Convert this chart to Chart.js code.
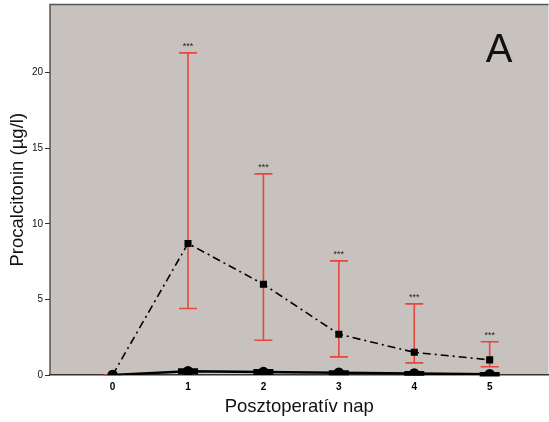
<!DOCTYPE html>
<html>
<head>
<meta charset="utf-8">
<script src="https://cdn.jsdelivr.net/npm/chart.js@4.4.0/dist/chart.umd.min.js"></script>
<style>
  html, body { margin: 0; padding: 0; background: #fff; overflow: hidden; }
  #wrap { width: 555px; height: 424px; position: relative; top: -2px; }
</style>
</head>
<body>
<div id="wrap"><canvas id="chart"></canvas></div>
<script>
// days after surgery
const days = [0, 1, 2, 3, 4, 5];
// dash-dot group (squares) with red error bars
const groupAMean = [0, 8.7, 6.0, 2.7, 1.5, 1.0];
const groupALow = [0, 4.4, 2.3, 1.2, 0.8, 0.55];
const groupAHigh = [0, 21.3, 13.3, 7.55, 4.7, 2.2];
// solid group (circles)
const groupBMean = [0, 0.25, 0.2, 0.15, 0.1, 0.05];
const groupBLow = [0, 0.15, 0.1, 0.08, 0.05, 0.0];
const groupBHigh = [0, 0.35, 0.3, 0.22, 0.16, 0.1];
const stars = ["", "***", "***", "***", "***", "***"];
const yTicks = [0, 5, 10, 15, 20];

const bgPlugin = {
  id: "bg",
  beforeDraw(chart) {
    const { ctx, chartArea: a } = chart;
    ctx.save();
    ctx.fillStyle = "#c8c2be";
    ctx.fillRect(a.left, a.top, a.right - a.left, a.bottom - a.top);
    ctx.strokeStyle = "#555";
    ctx.lineWidth = 1.5;
    ctx.beginPath();
    ctx.moveTo(a.left, a.bottom);
    ctx.lineTo(a.left, a.top);
    ctx.lineTo(a.right, a.top);
    ctx.stroke();
    ctx.restore();
  }
};

const errorPlugin = {
  id: "errs",
  beforeDatasetsDraw(chart) {
    const { ctx, scales: { x, y } } = chart;
    ctx.save();
    // red error bars
    ctx.strokeStyle = "#e8453f";
    ctx.lineWidth = 1.6;
    days.forEach((d, i) => {
      if (i === 0) return;
      const px = x.getPixelForValue(d);
      const hi = y.getPixelForValue(groupAHigh[i]);
      const lo = y.getPixelForValue(groupALow[i]);
      ctx.beginPath();
      ctx.moveTo(px, hi); ctx.lineTo(px, lo);
      ctx.moveTo(px - 9, hi); ctx.lineTo(px + 9, hi);
      ctx.moveTo(px - 9, lo); ctx.lineTo(px + 9, lo);
      ctx.stroke();
    });
    // red little marker at 0
    ctx.beginPath();
    ctx.moveTo(x.getPixelForValue(0) - 9, y.getPixelForValue(0));
    ctx.lineTo(x.getPixelForValue(0) + 9, y.getPixelForValue(0));
    ctx.stroke();
    // black small bars for solid group
    ctx.strokeStyle = "#000";
    ctx.lineWidth = 3;
    days.forEach((d, i) => {
      if (i === 0) return;
      const px = x.getPixelForValue(d);
      const hi = y.getPixelForValue(groupBHigh[i]);
      const lo = y.getPixelForValue(groupBLow[i]);
      ctx.beginPath();
      ctx.moveTo(px - 10, hi); ctx.lineTo(px + 10, hi);
      ctx.moveTo(px - 10, lo); ctx.lineTo(px + 10, lo);
      ctx.stroke();
    });
    ctx.restore();
  },
  afterDatasetsDraw(chart) {
    const { ctx, scales: { x, y } } = chart;
    ctx.save();
    ctx.fillStyle = "#222";
    ctx.font = "9px Arial, 'Liberation Sans', sans-serif";
    ctx.textAlign = "center";
    ctx.textBaseline = "bottom";
    days.forEach((d, i) => {
      if (!stars[i]) return;
      ctx.fillText(stars[i], x.getPixelForValue(d), y.getPixelForValue(groupAHigh[i]) - 2);
    });
    // panel letter
    ctx.fillStyle = "#111";
    ctx.font = "40px Arial, 'Liberation Sans', sans-serif";
    ctx.textBaseline = "alphabetic";
    ctx.fillText("A", 499, 64);
    ctx.restore();
  }
};

new Chart(document.getElementById("chart"), {
  type: "scatter",
  data: {
    datasets: [
      {
        data: days.map((d, i) => ({ x: d, y: groupBMean[i] })),
        showLine: true,
        borderColor: "#000",
        backgroundColor: "#000",
        borderWidth: 2.5,
        pointStyle: "circle",
        pointRadius: 4,
        order: 2
      },
      {
        data: days.map((d, i) => ({ x: d, y: groupAMean[i] })),
        showLine: true,
        borderColor: "#000",
        backgroundColor: "#000",
        borderWidth: 1.6,
        borderDash: [8, 4, 2, 4],
        pointStyle: "rect",
        pointRadius: 5,
        pointBorderWidth: 0,
        order: 1
      }
    ]
  },
  options: {
    responsive: true,
    maintainAspectRatio: false,
    animation: false,
    layout: { padding: 0 },
    plugins: { legend: { display: false }, tooltip: { enabled: false } },
    scales: {
      x: {
        type: "linear",
        min: -0.83,
        max: 5.78,
        afterBuildTicks: (s) => { s.ticks = days.map(v => ({ value: v })); },
        afterFit: (s) => { s.height = 47; s.paddingLeft = 0; s.paddingRight = 0; },
        grid: { display: false, drawOnChartArea: false, drawTicks: true, tickLength: 5, tickColor: "#000" },
        border: { display: true, color: "#333", width: 1.5 },
        ticks: { color: "#000", padding: 1, font: { size: 10, weight: "bold", family: "Arial, 'Liberation Sans', sans-serif" } },
        title: { display: true, text: "Posztoperatív nap", color: "#111", padding: { top: 0 }, font: { size: 18.5, family: "Arial, 'Liberation Sans', sans-serif" } }
      },
      y: {
        min: 0,
        max: 24.5,
        afterBuildTicks: (s) => { s.ticks = yTicks.map(v => ({ value: v })); },
        afterFit: (s) => { s.width = 50; s.paddingTop = 0; s.paddingBottom = 0; },
        grid: { display: true, drawOnChartArea: false, drawTicks: true, tickLength: 5, tickColor: "#333" },
        border: { display: false },
        ticks: { color: "#111", padding: 2, font: { size: 10, family: "Arial, 'Liberation Sans', sans-serif" } },
        title: { display: true, text: "Procalcitonin (µg/l)", color: "#111", padding: { top: 7, bottom: 0 }, font: { size: 18.5, family: "Arial, 'Liberation Sans', sans-serif" } }
      }
    }
  },
  plugins: [bgPlugin, errorPlugin]
});
</script>
</body>
</html>
